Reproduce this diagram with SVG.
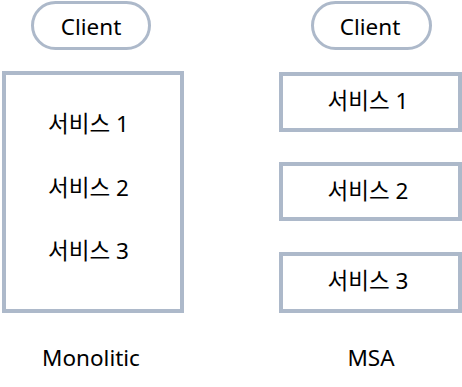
<svg xmlns="http://www.w3.org/2000/svg" width="462" height="387" viewBox="0 0 462 387">
<style>
.pill{fill:#ffffff;stroke:#adb9ca;stroke-width:3}
.box{fill:#ffffff;stroke:#adb9ca;stroke-width:4}
text{font-family:"Noto Sans","Noto Sans CJK KR",sans-serif;font-size:22.5px;fill:#000000;text-anchor:middle;dominant-baseline:central}
</style>
<rect width="462" height="387" fill="#ffffff"/>
<g id="client-mono">
<rect class="pill" x="32.5" y="2.5" width="117" height="46" rx="23"/>
<text x="91" y="26">Client</text>
</g>
<g id="monolith">
<rect class="box" x="4" y="73" width="178" height="238"/>
<text x="88.5" y="123">서비스 1</text>
<text x="88.5" y="187">서비스 2</text>
<text x="88.5" y="250">서비스 3</text>
</g>
<g id="client-msa">
<rect class="pill" x="312.5" y="2.5" width="118" height="46" rx="23"/>
<text x="370" y="26">Client</text>
</g>
<g id="msa-svc1">
<rect class="box" x="281" y="74" width="179" height="56"/>
<text x="368" y="100">서비스 1</text>
</g>
<g id="msa-svc2">
<rect class="box" x="281" y="164" width="179" height="55"/>
<text x="368" y="190">서비스 2</text>
</g>
<g id="msa-svc3">
<rect class="box" x="281" y="254" width="179" height="57"/>
<text x="368" y="280">서비스 3</text>
</g>
<g id="labels">
<text x="91" y="357">Monolitic</text>
<text x="371" y="357">MSA</text>
</g>
<g id="connectors"></g>
</svg>
